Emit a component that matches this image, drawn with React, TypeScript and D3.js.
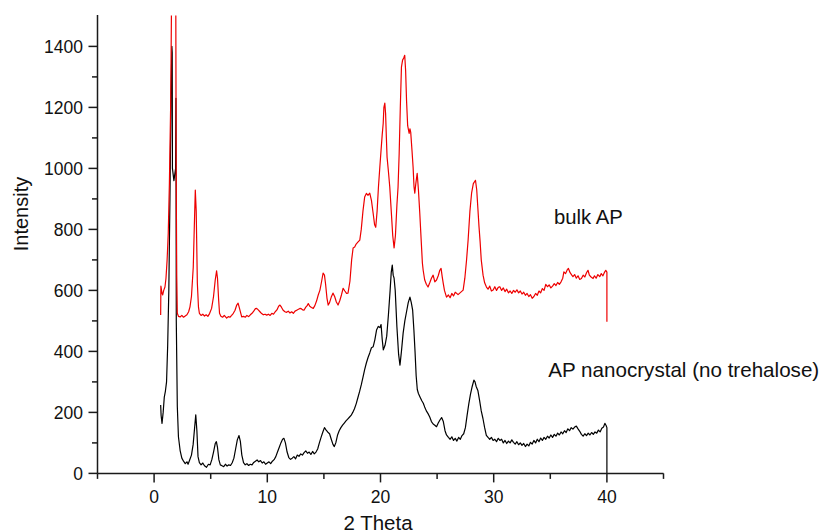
import React from "react";
import * as d3 from "d3";

// ---- data ----
const xMajorTicks = [0, 10, 20, 30, 40];
const xMinorTicks = [-5, 5, 15, 25, 35, 45];
const yMajorTicks = [0, 200, 400, 600, 800, 1000, 1200, 1400];
const yMinorTicks = [100, 300, 500, 700, 900, 1100, 1300];

const seriesLabels = ["bulk AP", "AP nanocrystal (no trehalose)"];

// nanocrystal (black) trace: [2 theta, intensity]
const nanoAP: [number, number][] = [
  [0.58, 224], [0.62, 190], [0.7, 164], [0.8, 200], [0.9, 250], [1.0, 270], [1.1, 300], [1.2, 420],
  [1.3, 600], [1.4, 900], [1.5, 1250], [1.57, 1400], [1.6, 1380], [1.62, 1000], [1.75, 960], [1.9, 1000],
  [1.93, 1230], [1.96, 500],
  [2.05, 220], [2.15, 120], [2.3, 75], [2.45, 50], [2.6, 40], [2.75, 32], [2.9, 38], [3.0, 30],
  [3.15, 45], [3.3, 60], [3.45, 95], [3.58, 150], [3.68, 192], [3.78, 140], [3.88, 55], [4.0, 35],
  [4.15, 28], [4.3, 34], [4.45, 25], [4.63, 20], [4.8, 30], [4.95, 28], [5.1, 45], [5.25, 70],
  [5.4, 98], [5.5, 104], [5.6, 85], [5.72, 45], [5.85, 28], [6.0, 25], [6.15, 22], [6.3, 30],
  [6.45, 24], [6.6, 28], [6.75, 26], [6.9, 35], [7.05, 50], [7.2, 80], [7.35, 110], [7.5, 124],
  [7.62, 105], [7.75, 60], [7.9, 35], [8.05, 28], [8.2, 32], [8.35, 26], [8.5, 30], [8.65, 28],
  [8.8, 36], [8.95, 40], [9.1, 44], [9.25, 38], [9.4, 42], [9.55, 34], [9.7, 38], [9.85, 30],
  [10.0, 34], [10.15, 38], [10.3, 32], [10.45, 40], [10.6, 45], [10.75, 55], [10.9, 70], [11.05, 85],
  [11.2, 100], [11.35, 112], [11.47, 115], [11.6, 100], [11.75, 70], [11.9, 52], [12.05, 46], [12.2, 50],
  [12.35, 55], [12.5, 48], [12.65, 60], [12.8, 56], [12.95, 64], [13.1, 60], [13.25, 68], [13.4, 74],
  [13.55, 66], [13.7, 70], [13.85, 62], [14.0, 72], [14.15, 64], [14.3, 70], [14.45, 80], [14.6, 100],
  [14.75, 118], [14.9, 135], [15.05, 150], [15.2, 142], [15.35, 135], [15.5, 130], [15.65, 112], [15.8, 95],
  [15.92, 88], [16.05, 100], [16.2, 125], [16.35, 140], [16.5, 150], [16.65, 158], [16.8, 165], [16.95, 172],
  [17.1, 178], [17.25, 184], [17.4, 190], [17.55, 200], [17.7, 212], [17.85, 228], [18.0, 248], [18.15, 268],
  [18.3, 290], [18.45, 315], [18.6, 340], [18.75, 362], [18.9, 380], [19.05, 395], [19.2, 412], [19.35, 415],
  [19.5, 438], [19.65, 470], [19.8, 482], [19.95, 478], [20.05, 488], [20.15, 440], [20.25, 405], [20.4, 420],
  [20.55, 450], [20.7, 520], [20.85, 600], [20.95, 660], [21.04, 683], [21.12, 650], [21.2, 640], [21.3, 600],
  [21.45, 480], [21.6, 390], [21.72, 355], [21.85, 400], [22.0, 460], [22.15, 500], [22.3, 530], [22.45, 560],
  [22.6, 578], [22.72, 560], [22.84, 535], [22.95, 470], [23.05, 400], [23.15, 320], [23.25, 275], [23.35, 262],
  [23.5, 250], [23.65, 238], [23.78, 230], [23.9, 218], [24.05, 205], [24.2, 196], [24.35, 185], [24.5, 170],
  [24.65, 162], [24.8, 158], [24.95, 153], [25.1, 165], [25.25, 175], [25.4, 183], [25.55, 170], [25.7, 140],
  [25.83, 126], [26.0, 118], [26.15, 112], [26.3, 120], [26.45, 108], [26.6, 115], [26.75, 106], [26.9, 118],
  [27.05, 112], [27.2, 124], [27.35, 130], [27.5, 150], [27.65, 190], [27.8, 228], [27.95, 260], [28.1, 285],
  [28.25, 306], [28.35, 300], [28.45, 285], [28.6, 272], [28.75, 240], [28.9, 205], [29.05, 180], [29.2, 150],
  [29.35, 125], [29.5, 118], [29.65, 112], [29.8, 118], [29.95, 108], [30.1, 112], [30.25, 104], [30.4, 115],
  [30.55, 108], [30.7, 112], [30.85, 100], [31.0, 108], [31.15, 98], [31.3, 106], [31.45, 100], [31.6, 110],
  [31.75, 102], [31.9, 96], [32.05, 104], [32.2, 94], [32.35, 100], [32.5, 92], [32.65, 98], [32.8, 88],
  [32.95, 96], [33.1, 90], [33.25, 102], [33.4, 96], [33.55, 108], [33.7, 100], [33.85, 112], [34.0, 104],
  [34.15, 116], [34.3, 108], [34.45, 118], [34.6, 112], [34.75, 122], [34.9, 116], [35.05, 126], [35.2, 118],
  [35.35, 128], [35.5, 122], [35.65, 132], [35.8, 126], [35.95, 136], [36.1, 130], [36.25, 140], [36.4, 134],
  [36.55, 146], [36.7, 140], [36.85, 150], [37.0, 145], [37.15, 152], [37.3, 155], [37.45, 146], [37.6, 138],
  [37.75, 128], [37.9, 122], [38.05, 130], [38.2, 124], [38.35, 132], [38.5, 126], [38.65, 134], [38.8, 128],
  [38.95, 136], [39.1, 132], [39.25, 142], [39.4, 136], [39.55, 148], [39.7, 152], [39.82, 164], [39.92, 158],
  [40.0, 150], [40.0, 0],
];

// bulk AP (red) trace: [2 theta, intensity]
const bulkAP: [number, number][] = [
  [0.58, 519], [0.6, 614], [0.7, 590], [0.76, 585], [0.85, 600], [0.96, 611], [1.05, 640], [1.15, 700],
  [1.25, 787], [1.35, 950], [1.47, 1224], [1.55, 1600], [1.65, 2200], [1.8, 2400], [1.9, 1800], [1.95, 1000],
  [2.0, 650], [2.05, 525], [2.15, 515], [2.3, 513], [2.45, 518], [2.6, 512], [2.75, 516], [2.9, 520],
  [3.05, 530], [3.17, 546], [3.3, 580], [3.46, 677], [3.56, 820], [3.64, 929], [3.72, 860], [3.82, 624],
  [3.92, 545], [4.0, 525], [4.15, 518], [4.3, 522], [4.45, 516], [4.6, 520], [4.75, 515], [4.9, 524],
  [5.08, 541], [5.25, 580], [5.4, 634], [5.52, 664], [5.6, 640], [5.7, 570], [5.78, 525], [5.9, 515],
  [6.05, 512], [6.2, 518], [6.41, 509], [6.55, 514], [6.7, 512], [6.85, 518], [7.0, 525], [7.15, 535],
  [7.3, 552], [7.42, 558], [7.55, 540], [7.74, 513], [7.9, 515], [8.05, 512], [8.2, 518], [8.35, 514],
  [8.5, 520], [8.65, 525], [8.8, 532], [8.95, 540], [9.06, 541], [9.2, 536], [9.35, 530], [9.5, 524],
  [9.65, 520], [9.8, 522], [9.95, 519], [10.1, 522], [10.25, 518], [10.4, 525], [10.55, 522], [10.7, 530],
  [10.85, 536], [11.0, 548], [11.12, 552], [11.25, 545], [11.4, 535], [11.56, 530], [11.7, 528], [11.85, 532],
  [12.0, 526], [12.15, 530], [12.3, 525], [12.45, 532], [12.6, 535], [12.75, 538], [12.88, 541], [13.0, 540],
  [13.12, 536], [13.24, 535], [13.4, 545], [13.52, 550], [13.62, 557], [13.75, 548], [13.9, 544], [14.06, 541],
  [14.2, 550], [14.35, 565], [14.5, 585], [14.65, 601], [14.8, 630], [14.93, 657], [15.05, 650], [15.15, 620],
  [15.27, 575], [15.38, 552], [15.5, 560], [15.65, 578], [15.8, 591], [15.95, 580], [16.1, 562], [16.25, 552],
  [16.4, 566], [16.55, 585], [16.7, 607], [16.85, 598], [17.0, 590], [17.13, 591], [17.3, 630], [17.45, 700],
  [17.58, 739], [17.72, 742], [17.85, 752], [18.0, 758], [18.17, 765], [18.3, 800], [18.45, 860], [18.6, 906],
  [18.75, 918], [18.9, 912], [19.05, 919], [19.2, 895], [19.35, 853], [19.48, 815], [19.58, 807], [19.7, 860],
  [19.82, 940], [19.94, 1004], [20.05, 1060], [20.15, 1110], [20.24, 1148], [20.3, 1200], [20.38, 1214], [20.45, 1180],
  [20.52, 1100], [20.58, 1037], [20.7, 990], [20.82, 938], [20.95, 860], [21.08, 780], [21.2, 739], [21.32, 780],
  [21.45, 880], [21.55, 938], [21.65, 1050], [21.75, 1200], [21.85, 1332], [21.95, 1355], [22.05, 1362], [22.14, 1371],
  [22.22, 1320], [22.3, 1223], [22.4, 1140], [22.53, 1115], [22.6, 1130], [22.67, 1118], [22.78, 1060], [22.88, 1004],
  [22.96, 940], [23.03, 919], [23.12, 950], [23.24, 984], [23.35, 930], [23.47, 853], [23.6, 760], [23.7, 690],
  [23.77, 666], [23.9, 635], [24.05, 620], [24.2, 611], [24.35, 625], [24.5, 640], [24.65, 650], [24.8, 628],
  [24.95, 634], [25.1, 648], [25.24, 666], [25.35, 672], [25.45, 645], [25.54, 624], [25.65, 600], [25.83, 578],
  [26.0, 585], [26.15, 576], [26.3, 590], [26.45, 582], [26.6, 594], [26.71, 591], [26.85, 586], [27.0, 591],
  [27.15, 596], [27.3, 601], [27.45, 640], [27.6, 699], [27.74, 765], [27.9, 860], [28.05, 920], [28.2, 950],
  [28.39, 961], [28.5, 930], [28.6, 870], [28.7, 810], [28.8, 760], [28.9, 700], [29.06, 650], [29.2, 625],
  [29.36, 611], [29.5, 604], [29.65, 614], [29.8, 598], [29.95, 601], [30.1, 612], [30.25, 600], [30.4, 610],
  [30.54, 612], [30.7, 600], [30.85, 608], [31.0, 596], [31.15, 604], [31.3, 592], [31.45, 598], [31.6, 590],
  [31.75, 600], [31.9, 594], [32.05, 602], [32.2, 592], [32.35, 598], [32.5, 588], [32.65, 594], [32.8, 584],
  [32.95, 590], [33.1, 580], [33.25, 586], [33.4, 574], [33.55, 580], [33.7, 590], [33.85, 584], [34.0, 598],
  [34.15, 592], [34.3, 606], [34.45, 600], [34.6, 620], [34.75, 612], [34.9, 618], [35.05, 608], [35.2, 614],
  [35.35, 622], [35.5, 616], [35.65, 626], [35.8, 620], [35.95, 628], [36.1, 640], [36.2, 661], [36.35, 655],
  [36.5, 668], [36.6, 672], [36.75, 658], [36.9, 650], [37.0, 645], [37.15, 652], [37.3, 640], [37.45, 648],
  [37.6, 636], [37.75, 639], [37.9, 650], [38.05, 644], [38.2, 658], [38.33, 666], [38.45, 650], [38.6, 644],
  [38.78, 639], [38.9, 648], [39.05, 640], [39.2, 652], [39.37, 645], [39.5, 655], [39.65, 648], [39.8, 660],
  [39.9, 666], [40.0, 660], [40.0, 497],
];

const W = 830;
const H = 532;
const FONT = "'Liberation Sans', Arial, sans-serif";

export default function App() {
  const x = d3.scaleLinear().domain([-5, 45]).range([97.5, 663.5]);
  const y = d3.scaleLinear().domain([0, 1500]).range([473.4, 15.9]);

  const line = d3
    .line<[number, number]>()
    .x((d) => x(d[0]))
    .y((d) => y(d[1]));

  const axisColor = "#1a1a1a";
  const x0 = x.range()[0];
  const y0 = y(0);

  return (
    <svg
      width={W}
      height={H}
      viewBox={`0 0 ${W} ${H}`}
      style={{ position: "absolute", left: 0, top: 0, background: "#fff" }}
    >
      <defs>
        <clipPath id="plotClip">
          <rect x={x.range()[0]} y={y(1500) - 0.5} width={x.range()[1] - x.range()[0]} height={y(0) - y(1500) + 1} />
        </clipPath>
      </defs>

      <g clipPath="url(#plotClip)">
        <path d={line(nanoAP) || ""} fill="none" stroke="#000" strokeWidth={1.2} strokeLinejoin="round" />
        <path d={line(bulkAP) || ""} fill="none" stroke="#ee0000" strokeWidth={1.2} strokeLinejoin="round" />
      </g>

      {/* axes */}
      <line x1={x0} x2={x.range()[1]} y1={y0} y2={y0} stroke={axisColor} strokeWidth={1.5} />
      <line x1={x0} x2={x0} y1={y0} y2={15} stroke={axisColor} strokeWidth={1.5} />

      {xMajorTicks.map((t) => (
        <g key={"xm" + t}>
          <line x1={x(t)} x2={x(t)} y1={y0} y2={y0 + 9} stroke={axisColor} strokeWidth={1.5} />
          <text x={x(t)} y={503.3} textAnchor="middle" fontFamily={FONT} fontSize={17.5} fill="#111">
            {t}
          </text>
        </g>
      ))}
      {xMinorTicks.map((t) => (
        <line key={"xn" + t} x1={x(t)} x2={x(t)} y1={y0} y2={y0 + 5.5} stroke={axisColor} strokeWidth={1.5} />
      ))}

      {yMajorTicks.map((t) => (
        <g key={"ym" + t}>
          <line x1={x0 - 9} x2={x0} y1={y(t)} y2={y(t)} stroke={axisColor} strokeWidth={1.5} />
          <text x={83} y={y(t) + 6.3} textAnchor="end" fontFamily={FONT} fontSize={17.5} fill="#111">
            {t}
          </text>
        </g>
      ))}
      {yMinorTicks.map((t) => (
        <line key={"yn" + t} x1={x0 - 5.5} x2={x0} y1={y(t)} y2={y(t)} stroke={axisColor} strokeWidth={1.5} />
      ))}

      {/* axis titles */}
      <text
        transform={`translate(28,214) rotate(-90)`}
        textAnchor="middle"
        fontFamily={FONT}
        fontSize={20}
        fill="#111"
      >
        Intensity
      </text>
      <text x={378} y={529.5} textAnchor="middle" fontFamily={FONT} fontSize={20.5} fill="#111">
        2 Theta
      </text>

      {/* series labels */}
      <text x={554} y={224.3} fontFamily={FONT} fontSize={20.3} fill="#111">
        {seriesLabels[0]}
      </text>
      <text x={548.3} y={376.7} fontFamily={FONT} fontSize={20.6} fill="#111">
        {seriesLabels[1]}
      </text>
    </svg>
  );
}
